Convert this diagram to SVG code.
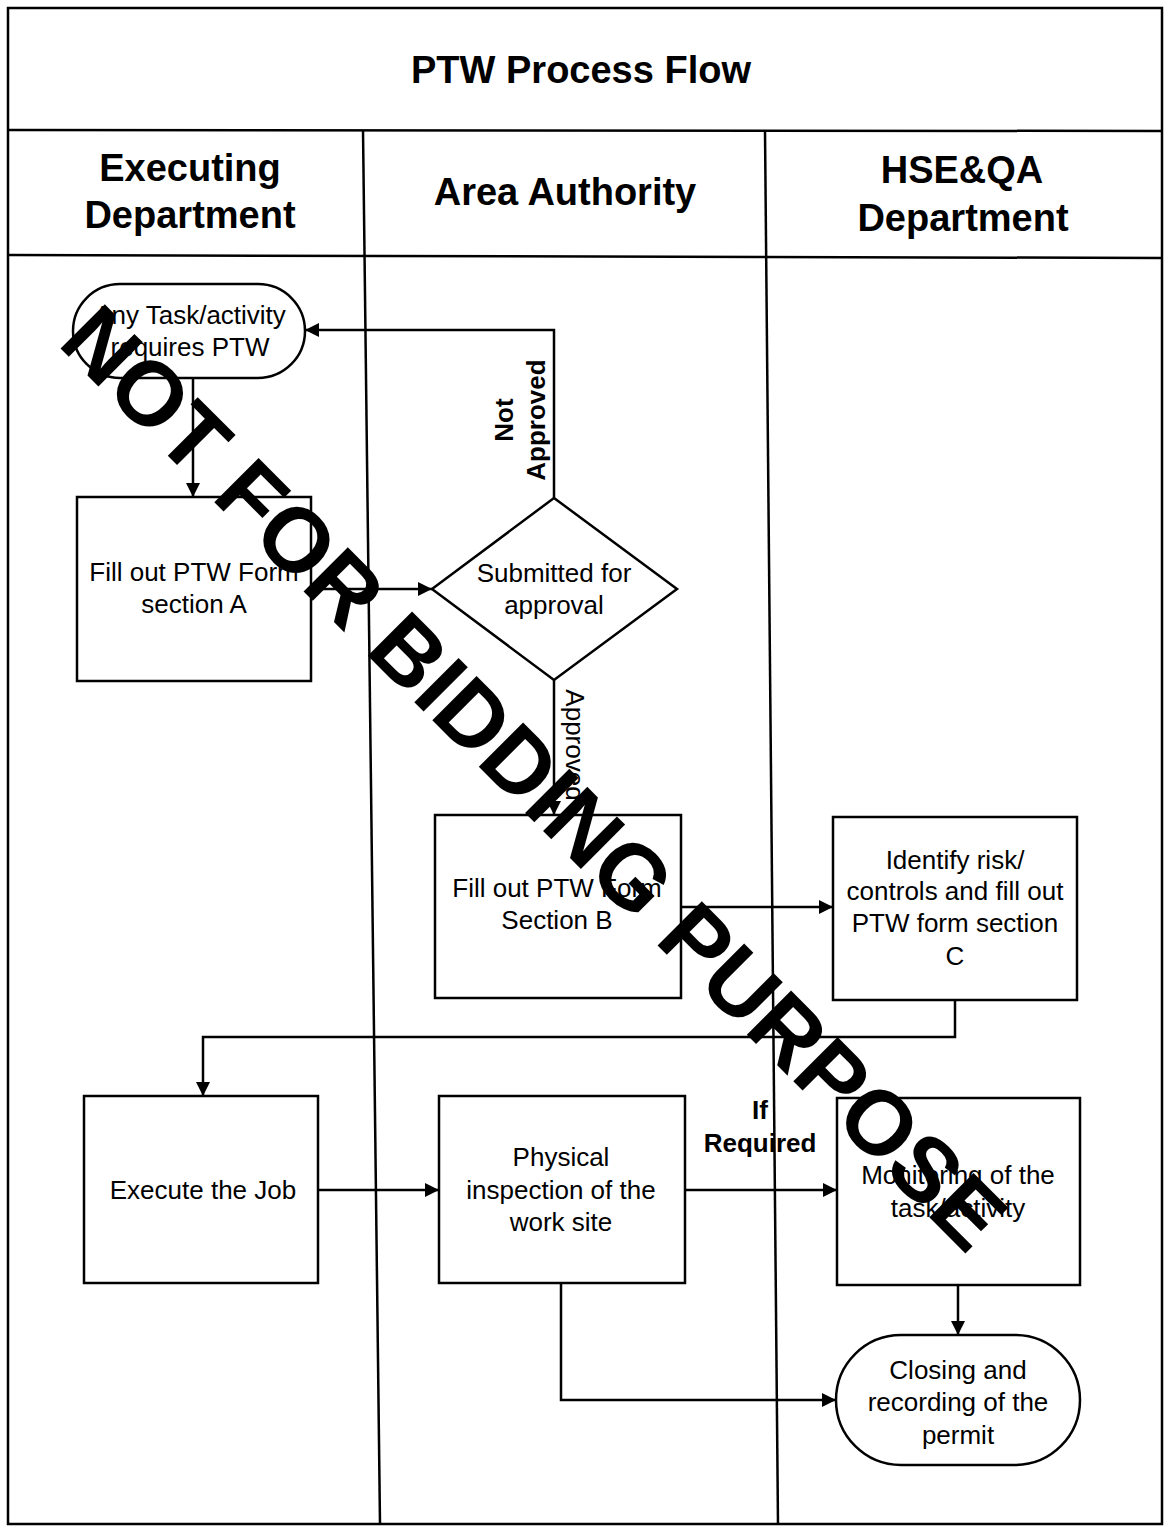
<svg xmlns="http://www.w3.org/2000/svg" width="1168" height="1526" viewBox="0 0 1168 1526">
<defs>
<marker id="arr" viewBox="0 0 10 10" refX="10" refY="5" markerWidth="14" markerHeight="14" markerUnits="userSpaceOnUse" orient="auto">
<path d="M0,0 L10,5 L0,10 z" fill="#000"/>
</marker>
<style>
.frame{fill:none;stroke:#000;stroke-width:2.5}
.node{fill:#fff;stroke:#000;stroke-width:2.5}
.edge{fill:none;stroke:#000;stroke-width:2.5;marker-end:url(#arr)}
.t{font-family:"Liberation Sans",Arial,sans-serif;font-size:26px;fill:#000;text-anchor:middle}
.h{font-family:"Liberation Sans",Arial,sans-serif;font-size:38px;font-weight:bold;fill:#000;text-anchor:middle}
.lb{font-family:"Liberation Sans",Arial,sans-serif;font-size:26px;font-weight:bold;fill:#000;text-anchor:middle}
.wm{font-family:"Liberation Sans",Arial,sans-serif;font-size:91px;font-weight:bold;fill:#000;text-anchor:middle}
</style>
</defs>
<rect width="1168" height="1526" fill="#fff"/>
<g id="frame">
<rect class="frame" x="8" y="8" width="1154" height="1516"/>
<line class="frame" x1="8" y1="130" x2="1162" y2="131"/>
<line class="frame" x1="8" y1="255" x2="1162" y2="258"/>
<line class="frame" x1="363" y1="130" x2="380" y2="1524"/>
<line class="frame" x1="765" y1="131" x2="778" y2="1524"/>
<text class="h" x="581" y="83" font-size="42">PTW Process Flow</text>
<text class="h" x="190" y="181">Executing</text>
<text class="h" x="190" y="228">Department</text>
<text class="h" x="565" y="205" font-size="40">Area Authority</text>
<text class="h" x="962" y="183">HSE&amp;QA</text>
<text class="h" x="963" y="231" font-size="39">Department</text>
</g>
<g id="connectors">
<line class="edge" x1="193" y1="378" x2="193" y2="497"/>
<polyline class="edge" points="554,498 554,330 305,330"/>
<line class="edge" x1="311" y1="589" x2="432" y2="589"/>
<line class="edge" x1="554" y1="680" x2="554" y2="815"/>
<line class="edge" x1="681" y1="907" x2="833" y2="907"/>
<polyline class="edge" points="955,1000 955,1037 203,1037 203,1096"/>
<line class="edge" x1="318" y1="1190" x2="439" y2="1190"/>
<line class="edge" x1="685" y1="1190" x2="837" y2="1190"/>
<line class="edge" x1="958" y1="1285" x2="958" y2="1335"/>
<polyline class="edge" points="561,1283 561,1400 836,1400"/>
<text class="lb" transform="translate(513,420) rotate(-90)">Not</text>
<text class="lb" transform="translate(545,420) rotate(-90)">Approved</text>
<text class="t" transform="translate(566,745) rotate(90)">Approved</text>
<text class="lb" x="760" y="1119">If</text>
<text class="lb" x="760" y="1152">Required</text>
</g>
<g id="start">
<rect class="node" x="73" y="284" width="232" height="94" rx="47" ry="47"/>
<text class="t" x="190" y="324">Any Task/activity</text>
<text class="t" x="190" y="356">requires PTW</text>
</g>
<g id="sectionA">
<rect class="node" x="77" y="497" width="234" height="184"/>
<text class="t" x="194" y="581">Fill out PTW Form</text>
<text class="t" x="194" y="613">section A</text>
</g>
<g id="decision">
<polygon class="node" points="554,498 677,589 554,680 432,589"/>
<text class="t" x="554" y="582">Submitted for</text>
<text class="t" x="554" y="614">approval</text>
</g>
<g id="sectionB">
<rect class="node" x="435" y="815" width="246" height="183"/>
<text class="t" x="557" y="897">Fill out PTW Form</text>
<text class="t" x="557" y="929">Section B</text>
</g>
<g id="sectionC">
<rect class="node" x="833" y="817" width="244" height="183"/>
<text class="t" x="955" y="869">Identify risk/</text>
<text class="t" x="955" y="900">controls and fill out</text>
<text class="t" x="955" y="932">PTW form section</text>
<text class="t" x="955" y="965">C</text>
</g>
<g id="execute">
<rect class="node" x="84" y="1096" width="234" height="187"/>
<text class="t" x="203" y="1199">Execute the Job</text>
</g>
<g id="inspection">
<rect class="node" x="439" y="1096" width="246" height="187"/>
<text class="t" x="561" y="1166">Physical</text>
<text class="t" x="561" y="1199">inspection of the</text>
<text class="t" x="561" y="1231">work site</text>
</g>
<g id="monitoring">
<rect class="node" x="837" y="1098" width="243" height="187"/>
<text class="t" x="958" y="1184">Monitoring of the</text>
<text class="t" x="958" y="1217">task/activity</text>
</g>
<g id="closing">
<rect class="node" x="836" y="1335" width="244" height="130" rx="65" ry="65"/>
<text class="t" x="958" y="1379">Closing and</text>
<text class="t" x="958" y="1411">recording of the</text>
<text class="t" x="958" y="1444">permit</text>
</g>
<g id="watermark">
<text class="wm" transform="translate(512,800) rotate(45)">NOT FOR BIDDING PURPOSE</text>
</g>
</svg>
